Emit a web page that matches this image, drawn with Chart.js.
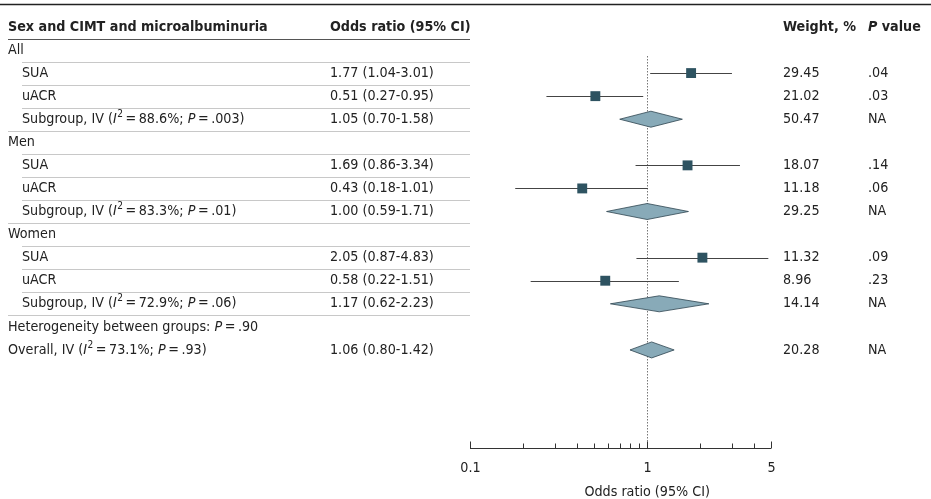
<!DOCTYPE html>
<html><head><meta charset="utf-8">
<script src="https://cdn.jsdelivr.net/npm/chart.js@4.4.0/dist/chart.umd.min.js"></script>
<style>html,body{margin:0;padding:0;background:#fff}#c{display:block}</style>
</head><body>
<div style="width:931px;height:499px"><canvas id="c"></canvas></div>
<script>
const rowLabels = ["All","SUA","uACR","Subgroup, IV","Men","SUA","uACR","Subgroup, IV","Women","SUA","uACR","Subgroup, IV","Heterogeneity between groups: P = .90","Overall, IV"];
const rowStats = [null,null,null,["88.6","P",".003"],null,null,null,["83.3","P",".01"],null,null,null,["72.9","P",".06"],null,["73.1","P",".93"]];
const rowIndent = [0,1,1,1,0,1,1,1,0,1,1,1,0,0];
const rowKind = ["h","s","s","d","h","s","s","d","h","s","s","d","t","d"];
const estimate = [null,1.77,0.51,1.05,null,1.69,0.43,1.00,null,2.05,0.58,1.17,null,1.06];
const lower = [null,1.04,0.27,0.70,null,0.86,0.18,0.59,null,0.87,0.22,0.62,null,0.80];
const upper = [null,3.01,0.95,1.58,null,3.34,1.01,1.71,null,4.83,1.51,2.23,null,1.42];
const weight = [null,"29.45","21.02","50.47",null,"18.07","11.18","29.25",null,"11.32","8.96","14.14",null,"20.28"];
const pval = [null,".04",".03","NA",null,".14",".06","NA",null,".09",".23","NA",null,"NA"];
const xTicks = [0.1,0.2,0.3,0.4,0.5,0.6,0.7,0.8,0.9,1,2,3,4,5];
const xTickLabels = {0.1:"0.1",1:"1",5:"5"};
const xTitle = "Odds ratio (95% CI)";
const FONT = '"DejaVu Sans Condensed", "DejaVu Sans", sans-serif';
const FS = 14.2;
const EQ = "\u2009=\u2009";

const pts = [];
rowKind.forEach((k,i)=>{ if(k==="s") pts.push({x:estimate[i], y:i}); });

function fmt(v){return v.toFixed(2);}

const forest = {
  id:'forest',
  beforeDatasetsDraw(chart){
    const ctx=chart.ctx, xs=chart.scales.x, ys=chart.scales.y;
    const F=(s)=>(s?s+' ':'')+FS+'px '+FONT;
    ctx.save();
    ctx.strokeStyle="#222"; ctx.lineWidth=1.5;
    ctx.beginPath(); ctx.moveTo(0,4.5); ctx.lineTo(931,4.5); ctx.stroke();
    ctx.fillStyle="#222"; ctx.textBaseline="middle";
    ctx.font=F('bold');
    ctx.fillText("Sex and CIMT and microalbuminuria",8,27);
    ctx.fillText("Odds ratio (95% CI)",330,27);
    ctx.fillText("Weight, %",783,27);
    ctx.font=F('bold italic'); ctx.fillText("P",868,27);
    const pw=ctx.measureText("P ").width;
    ctx.font=F('bold'); ctx.fillText("value",868+pw,27);
    ctx.strokeStyle="#555"; ctx.lineWidth=1;
    ctx.beginPath(); ctx.moveTo(8,39.5); ctx.lineTo(470,39.5); ctx.stroke();
    ctx.strokeStyle="#c8c8c8";
    for(let i=0;i<rowLabels.length-2;i++){
      const yy=Math.round((ys.getPixelForValue(i)+ys.getPixelForValue(i+1))/2)+0.5;
      const sx = rowIndent[i+1]?22:8;
      ctx.beginPath(); ctx.moveTo(sx,yy); ctx.lineTo(470,yy); ctx.stroke();
    }
    const x1=Math.round(xs.getPixelForValue(1))+0.5;
    ctx.strokeStyle="#777"; ctx.setLineDash([1.5,1.5]);
    ctx.beginPath(); ctx.moveTo(x1,ys.getPixelForValue(0)+6); ctx.lineTo(x1,ys.bottom); ctx.stroke();
    ctx.setLineDash([]);
    ctx.font=F(''); ctx.fillStyle="#222";
    rowLabels.forEach((lab,i)=>{
      const y=ys.getPixelForValue(i);
      let x=rowIndent[i]?22:8;
      const seg=(t,f)=>{ctx.font=f; ctx.fillText(t,x,y); x+=ctx.measureText(t).width;};
      if(rowKind[i]==="t"){
        const parts=lab.split("P = ");
        seg(parts[0],F('')); seg("P",F('italic')); seg(EQ+parts[1],F(''));
        return;
      }
      seg(lab,F(''));
      const st=rowStats[i];
      if(st){
        seg(" (",F(''));
        seg("I",F('italic'));
        ctx.font='10px '+FONT; ctx.fillText("2",x+0.5,y-5); x+=ctx.measureText("2").width+0.5;
        seg(EQ+st[0]+"%; ",F(''));
        seg("P",F('italic'));
        seg(EQ+st[2]+")",F(''));
      }
      if(estimate[i]!=null){
        ctx.font=F('');
        ctx.fillText(fmt(estimate[i])+" ("+fmt(lower[i])+"-"+fmt(upper[i])+")",330,y);
        ctx.fillText(weight[i],783,y);
        ctx.fillText(pval[i],868,y);
      }
    });
    rowKind.forEach((k,i)=>{
      const y=ys.getPixelForValue(i);
      if(k==="s"){
        ctx.strokeStyle="#444"; ctx.lineWidth=1;
        ctx.beginPath(); ctx.moveTo(xs.getPixelForValue(lower[i]),Math.round(y)+0.5); ctx.lineTo(xs.getPixelForValue(upper[i]),Math.round(y)+0.5); ctx.stroke();
      } else if(k==="d"){
        ctx.fillStyle="#88aab8"; ctx.strokeStyle="#2e4550"; ctx.lineWidth=0.8;
        ctx.beginPath();
        ctx.moveTo(xs.getPixelForValue(lower[i]),y);
        ctx.lineTo(xs.getPixelForValue(estimate[i]),y-8);
        ctx.lineTo(xs.getPixelForValue(upper[i]),y);
        ctx.lineTo(xs.getPixelForValue(estimate[i]),y+8);
        ctx.closePath(); ctx.fill(); ctx.stroke();
      }
    });
    const ay=Math.round(ys.bottom)+0.5;
    ctx.strokeStyle="#333"; ctx.lineWidth=1;
    ctx.beginPath(); ctx.moveTo(xs.getPixelForValue(0.1),ay); ctx.lineTo(xs.getPixelForValue(5),ay); ctx.stroke();
    ctx.fillStyle="#222"; ctx.font=F(''); ctx.textAlign="center";
    xTicks.forEach(t=>{
      const px=Math.round(xs.getPixelForValue(t))+0.5;
      const big = xTickLabels[t]!==undefined;
      ctx.beginPath(); ctx.moveTo(px,ay); ctx.lineTo(px,ay-(big?7:5)); ctx.stroke();
      if(big) ctx.fillText(xTickLabels[t],px,ay+20);
    });
    ctx.fillText(xTitle,xs.getPixelForValue(1),ay+44);
    ctx.restore();
  }
};

new Chart(document.getElementById('c'),{
  type:'scatter',
  data:{datasets:[{data:pts,pointStyle:'rect',radius:7,hoverRadius:7,backgroundColor:'#2e5361',borderColor:'#2e5361',borderWidth:0}]},
  options:{
    responsive:true, maintainAspectRatio:false, animation:false,
    layout:{padding:{left:470,right:160,top:50,bottom:51}},
    plugins:{legend:{display:false},tooltip:{enabled:false}},
    scales:{
      x:{type:'logarithmic',min:0.1,max:5,display:false},
      y:{type:'linear',min:0,max:17.25,reverse:true,display:false}
    }
  },
  plugins:[forest]
});
</script>
</body></html>
